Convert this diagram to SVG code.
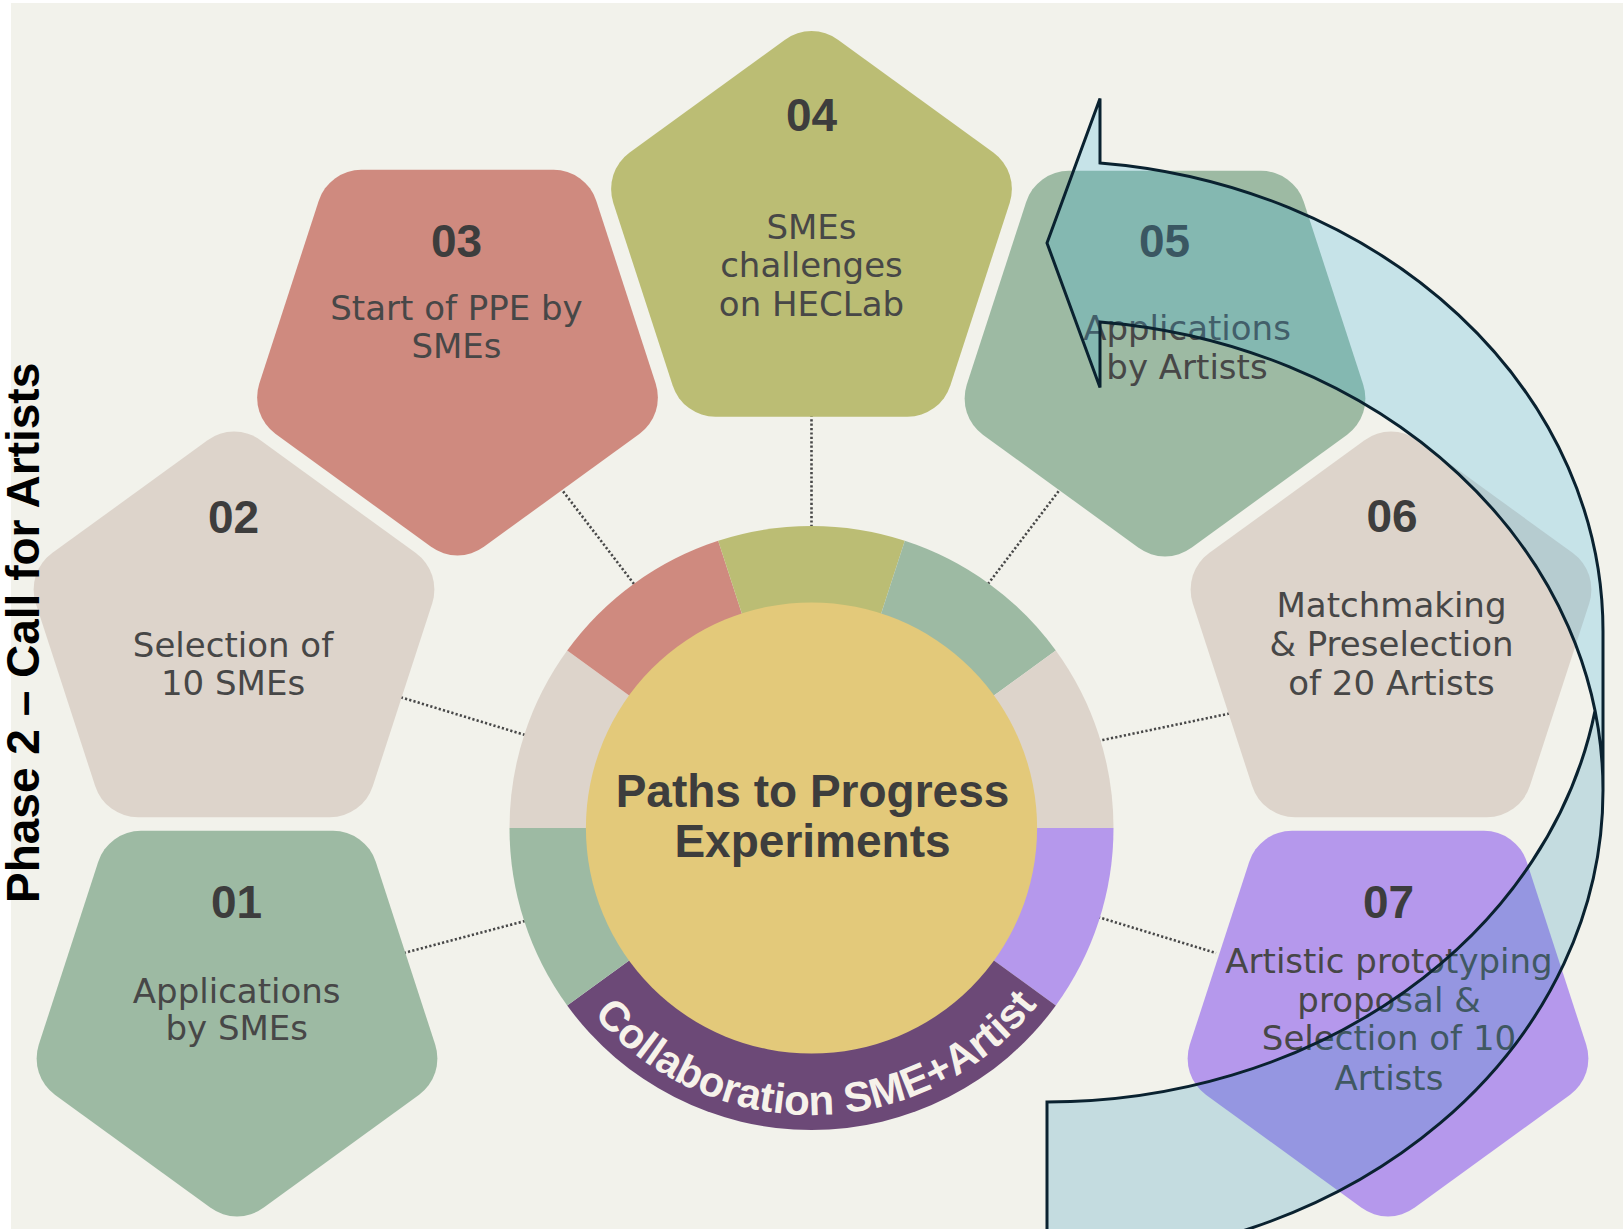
<svg xmlns="http://www.w3.org/2000/svg" width="1623" height="1229" viewBox="0 0 1623 1229">
<style>
.num{font-family:"Liberation Sans",Arial,sans-serif;font-weight:bold;font-size:46px;fill:#3d3d3d;text-anchor:middle}
.desc{font-family:"DejaVu Sans",sans-serif;font-size:34px;fill:#474747;text-anchor:middle}
.dot{stroke:#484848;stroke-width:2.6;stroke-dasharray:2.2 2.2;fill:none}
.title{font-family:"Liberation Sans",Arial,sans-serif;font-weight:bold;font-size:46px;fill:#3d3d3d;text-anchor:middle}
.band{font-family:"Liberation Sans",Arial,sans-serif;font-weight:bold;font-size:42px;fill:#f6f2ea}
.phase{font-family:"Liberation Sans",Arial,sans-serif;font-weight:bold;font-size:46px;fill:#000000}
.arrowStroke{fill:none;stroke:#0a2230;stroke-width:3;stroke-linejoin:miter}
</style>
<defs>
<path id="pentUp" d="M 26.44,-199.79 L 181.84,-86.88 A 45 45 0 0 1 198.18,-36.59 L 138.83,146.09 A 45 45 0 0 1 96.04,177.17 L -96.04,177.17 A 45 45 0 0 1 -138.83,146.09 L -198.18,-36.59 A 45 45 0 0 1 -181.84,-86.88 L -26.44,-199.79 A 45 45 0 0 1 26.44,-199.79 Z"/>
<path id="pentDown" d="M 26.44,199.79 L 181.84,86.88 A 45 45 0 0 0 198.18,36.59 L 138.83,-146.09 A 45 45 0 0 0 96.04,-177.17 L -96.04,-177.17 A 45 45 0 0 0 -138.83,-146.09 L -198.18,36.59 A 45 45 0 0 0 -181.84,86.88 L -26.44,199.79 A 45 45 0 0 0 26.44,199.79 Z"/>
<path id="bandArc" d="M 524.5 828 A 287 287 0 0 0 1098.5 828"/>
</defs>

<rect x="0" y="0" width="1623" height="1229" fill="#ffffff"/>
<rect x="11" y="3" width="1612" height="1226" fill="#f2f2eb"/>

<g id="connectors">
<line class="dot" x1="525" y1="921" x2="400" y2="954"/>
<line class="dot" x1="525" y1="735" x2="400" y2="697"/>
<line class="dot" x1="634" y1="584" x2="559" y2="486"/>
<line class="dot" x1="811.5" y1="527" x2="811.5" y2="412"/>
<line class="dot" x1="988" y1="584" x2="1064" y2="484"/>
<line class="dot" x1="1098" y1="741" x2="1232" y2="713"/>
<line class="dot" x1="1098" y1="917" x2="1216" y2="953"/>
</g>

<g id="hub">
<path d="M 811.5 828 L 1113.5 828 A 302 302 0 0 1 1055.82 1005.52 Z" fill="#b598ec"/>
<path d="M 811.5 828 L 1055.82 1005.52 A 302 302 0 0 1 567.18 1005.52 Z" fill="#6c4977"/>
<path d="M 811.5 828 L 567.18 1005.52 A 302 302 0 0 1 509.5 828 Z" fill="#9dbaa3"/>
<path d="M 811.5 828 L 509.5 828 A 302 302 0 0 1 567.18 650.48 Z" fill="#ddd4cb"/>
<path d="M 811.5 828 L 567.18 650.48 A 302 302 0 0 1 718.18 540.77 Z" fill="#cf8a7f"/>
<path d="M 811.5 828 L 718.18 540.77 A 302 302 0 0 1 904.82 540.77 Z" fill="#bbbd74"/>
<path d="M 811.5 828 L 904.82 540.77 A 302 302 0 0 1 1055.82 650.48 Z" fill="#9dbaa3"/>
<path d="M 811.5 828 L 1055.82 650.48 A 302 302 0 0 1 1113.5 828 Z" fill="#ddd4cb"/>
<circle cx="811.5" cy="828" r="225.6" fill="#e3c97a"/>
<text class="band"><textPath href="#bandArc" startOffset="50.7%" text-anchor="middle">Collaboration SME+Artist</textPath></text>
<text class="title" x="812.5" y="806.7">Paths to Progress</text>
<text class="title" x="812.5" y="857.3">Experiments</text>
</g>

<g id="node-01">
<use href="#pentDown" transform="translate(237,1008)" fill="#9dbaa3"/>
<text class="num" x="236.5" y="917.5">01</text>
<text class="desc" x="236.7" y="1003">Applications</text>
<text class="desc" x="236.7" y="1040">by SMEs</text>
</g>
<g id="node-02">
<use href="#pentUp" transform="translate(234,640)" fill="#ddd4cb"/>
<text class="num" x="233.5" y="532.5">02</text>
<text class="desc" x="233" y="657">Selection of</text>
<text class="desc" x="233" y="695">10 SMEs</text>
</g>
<g id="node-03">
<use href="#pentDown" transform="translate(457.5,347)" fill="#cf8a7f"/>
<text class="num" x="456.5" y="257">03</text>
<text class="desc" x="456.5" y="320">Start of PPE by</text>
<text class="desc" x="456.5" y="357.5">SMEs</text>
</g>
<g id="node-04">
<use href="#pentUp" transform="translate(811.5,239.5)" fill="#bbbd74"/>
<text class="num" x="811.5" y="131">04</text>
<text class="desc" x="811.5" y="238.5">SMEs</text>
<text class="desc" x="811.5" y="277">challenges</text>
<text class="desc" x="811.5" y="316">on HECLab</text>
</g>
<g id="node-05">
<use href="#pentDown" transform="translate(1165,348)" fill="#9dbaa3"/>
<text class="num" x="1164.5" y="257">05</text>
<text class="desc" x="1187" y="340">Applications</text>
<text class="desc" x="1187" y="378.5">by Artists</text>
</g>
<g id="node-06">
<use href="#pentUp" transform="translate(1391,640)" fill="#ddd4cb"/>
<text class="num" x="1392" y="532">06</text>
<text class="desc" x="1391.5" y="617">Matchmaking</text>
<text class="desc" x="1391.5" y="656">&amp; Preselection</text>
<text class="desc" x="1391.5" y="695">of 20 Artists</text>
</g>
<g id="node-07">
<use href="#pentDown" transform="translate(1388,1008)" fill="#b598ec"/>
<text class="num" x="1388.5" y="918">07</text>
<text class="desc" x="1389" y="973">Artistic prototyping</text>
<text class="desc" x="1389" y="1012">proposal &amp;</text>
<text class="desc" x="1389" y="1050">Selection of 10</text>
<text class="desc" x="1389" y="1090">Artists</text>
</g>

<text class="phase" x="39" y="903" transform="rotate(-90 39 903)">Phase 2 – Call for Artists</text>

<g id="curved-arrow">
<path d="M 1603 790.4 A 556 470.6 0 0 0 1100 321.9 L 1100 387.5 L 1047 243 L 1100 98.5 L 1100 162.9 A 556 470.6 0 0 1 1603 631.4 Z" fill="#36b1e2" fill-opacity="0.23"/>
<path d="M 1047 1102 A 556 470.6 0 0 0 1595 710.9 A 556 470.6 0 0 1 1047 1261 Z" fill="#2a93c0" fill-opacity="0.23"/>
<path class="arrowStroke" d="M 1603 790.4 A 556 470.6 0 0 0 1100 321.9 L 1100 387.5 L 1047 243 L 1100 98.5 L 1100 162.9 A 556 470.6 0 0 1 1603 631.4 L 1603 790.4 A 556 470.6 0 0 1 1047 1261 L 1047 1102 A 556 470.6 0 0 0 1595 710.9"/>
</g>
</svg>
